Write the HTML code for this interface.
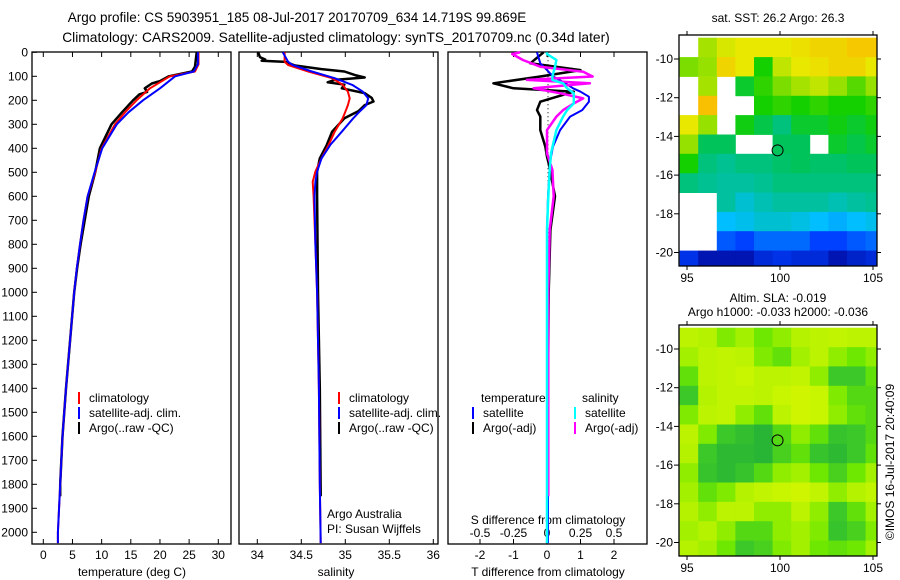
<!DOCTYPE html>
<html><head><meta charset="utf-8"><style>
body{margin:0;background:#fff}
svg{display:block;font-family:"Liberation Sans",sans-serif}
</style></head><body>
<svg id="c" width="900" height="580" viewBox="0 0 900 580" xmlns="http://www.w3.org/2000/svg">
<text x="297" y="22" font-size="13.5" text-anchor="middle">Argo profile: CS 5903951_185 08-Jul-2017 20170709_634 14.719S 99.869E</text>
<text x="336" y="42" font-size="13.8" text-anchor="middle">Climatology: CARS2009. Satellite-adjusted climatology: synTS_20170709.nc (0.34d later)</text>
<text x="778" y="22" font-size="12" text-anchor="middle">sat. SST: 26.2 Argo: 26.3</text>
<text x="778" y="302" font-size="12" text-anchor="middle">Altim. SLA: -0.019</text>
<text x="778" y="316" font-size="12" text-anchor="middle">Argo h1000: -0.033 h2000: -0.036</text>
<text transform="translate(894,462) rotate(-90)" font-size="12" text-anchor="middle">©IMOS 16-Jul-2017 20:40:09</text>
<g id="g"></g>
</svg>
<script>
// ---- profile data ----
const depthT = [0,50,80,100,150,200,250,300,400,500,600,700,800,900,1000,1200,1400,1600,1800,2000,2045];
const tempClim = [26.6,26.6,26,21.7,18.3,16,14,12.3,10,8.9,7.6,6.9,6.3,5.75,5.3,4.6,3.9,3.3,2.9,2.5,2.5];
const tempSat  = [26.5,26.5,25.8,22.6,20,17.1,14.6,12.6,10.1,8.8,7.6,6.9,6.3,5.75,5.3,4.6,3.9,3.3,2.9,2.5,2.5];
const depthTA = [0,60,80,100,120,130,150,165,175,200,250,300,400,500,600,700,800,900,1000,1200,1400,1600,1800,1850];
const tempArgo = [26.3,26,25.5,21.5,20,18.6,17.4,17.8,16.5,15.4,13.5,11.7,9.7,8.9,7.8,7.1,6.4,5.8,5.3,4.6,3.9,3.3,2.9,2.9];
const depthS = [0,39,53,80,108,136,164,192,220,248,275,331,386,442,497,539,600,800,1000,1400,1800,2045];
const salClim = [34.31,34.31,34.35,34.58,34.85,34.97,35.03,35.05,35.03,35.0,34.97,34.88,34.81,34.73,34.66,34.63,34.64,34.66,34.68,34.7,34.71,34.72];
const salSat  = [34.29,34.35,34.4,34.62,34.88,35.08,35.2,35.26,35.24,35.16,35.09,34.96,34.83,34.73,34.68,34.66,34.65,34.66,34.68,34.7,34.71,34.72];
const depthSA = [0,20,30,35,40,55,70,80,95,105,115,125,135,150,170,190,205,220,245,275,331,386,442,497,600,1000,1400,1850];
const salArgo = [34.01,34.03,34.09,34.05,34.32,34.43,34.73,34.99,35.11,35.22,34.88,34.8,34.99,34.96,35.22,35.3,35.32,35.22,35.15,34.99,34.85,34.79,34.71,34.68,34.68,34.69,34.71,34.72];
const depthD = [0,46,74,101,129,150,164,185,206,241,268,324,393,435,463,600,740,1000,1400,1850,2045];
const dTSat  = [-0.3,-0.2,0,0.18,0.55,0.78,1.0,1.25,1.25,1.05,0.69,0.39,0.18,0.12,0.09,0.03,0,0.02,0.03,0.03,0.03];
const dTArgo = [-0.1,-0.5,1.0,-0.2,-1.6,-1.0,0.8,0.3,-0.2,-0.3,-0.2,-0.2,-0.05,0,0.05,0.24,0.1,0.05,0.03,0.02,null];
const depthDS = [0,7,32,60,81,101,115,129,150,171,192,213,241,268,324,421,490,600,740,1000,1400,1850,2045];
const dSArgo = [-0.2,-0.26,-0.18,-0.05,0.27,0.34,-0.15,0.32,-0.1,0.1,0.27,0.2,0.12,0.07,0,0,0.04,0.05,0.02,0.01,0.01,0.01,null];
const dSSat  = [0,0,0.07,0.06,0.05,0.04,0.04,0.12,0.15,0.2,0.2,0.2,0.15,0.12,0.07,0.03,0.02,0.01,0,0,0,0,0];
const depthTicks = [0,100,200,300,400,500,600,700,800,900,1000,1100,1200,1300,1400,1500,1600,1700,1800,1900,2000];
const tempTicks = [0,5,10,15,20,25,30];
const salTicks = [34,34.5,35,35.5,36];
const dTTicks = [-2,-1,0,1,2];
const dSTicks = [-0.5,-0.25,0,0.25,0.5];
const dSTickLabels = ['-0.5','-0.25','0','0.25','0.5'];
// ---- map data (1-degree cells, rows from north) ----
const lonTicks = [95,100,105];
const latTicks = [-10,-12,-14,-16,-18,-20];
const sstGrid = [
[-1,.72,.78,.8,.8,.8,.82,.85,.85,.88,.88],
[.68,.7,.85,.8,.6,.75,.8,.82,.85,.85,.8],
[-1,.72,-1,.55,.62,.68,.72,.75,.7,.65,.7],
[-1,.9,-1,-1,.6,.62,.6,.62,.6,.6,.62],
[.8,.7,-1,.58,.52,.45,.55,.55,.58,.55,.58],
[.7,.5,.5,-1,-1,.5,.5,-1,.55,.52,.55],
[.6,.45,.42,.45,.45,.48,.5,.48,.48,.5,.5],
[.45,.42,.4,.4,.42,.45,.45,.45,.45,.45,.45],
[-1,-1,.4,.35,.38,.4,.4,.4,.38,.4,.42],
[-1,-1,.3,.32,.35,.35,.33,.3,.28,.3,.32],
[-1,-1,.18,.15,.2,.2,.2,.15,.15,.18,.2],
[.12,.05,.05,.05,.1,.12,.1,.1,.05,.08,.1]];
const slaGrid = [
[.75,.7,.55,.65,.5,.6,.7,.75,.8,.75,.75],
[.65,.75,.8,.75,.55,.45,.65,.75,.6,.5,.6],
[.45,.75,.8,.85,.75,.75,.8,.6,.3,.3,.45],
[.3,.7,.8,.8,.75,.85,.9,.85,.55,.4,.4],
[.55,.75,.8,.6,.45,.75,.9,.85,.6,.45,.4],
[.75,.55,.3,.2,.1,.4,.6,.45,.25,.3,.4],
[.7,.3,.15,.15,.1,.35,.45,.25,.15,.3,.45],
[.6,.25,.15,.25,.4,.6,.65,.5,.35,.5,.65],
[.65,.45,.55,.7,.8,.85,.9,.8,.6,.7,.8],
[.7,.6,.75,.75,.6,.6,.75,.6,.3,.45,.65],
[.65,.7,.6,.4,.4,.6,.65,.55,.25,.35,.55],
[.7,.65,.5,.3,.35,.55,.65,.5,.45,.5,.65]];
const floatLon = 99.869, floatLat = -14.719;

const NS='http://www.w3.org/2000/svg';
const G=document.getElementById('g');
function mk(tag,attrs,parent){const e=document.createElementNS(NS,tag);for(const k in attrs)e.setAttribute(k,attrs[k]);(parent||G).appendChild(e);return e;}
const yD = d => 52.3 + d*0.24;
const xT = t => 43.3 + t*5.833;
const xS = s => 257.3 + (s-34)*88;
const xDT = t => 547 + t*33.5;
const xDS = s => 547 + s*134;
const PT=52, PB=544;
const panels=[[32,231,'temperature-panel'],[239,438,'salinity-panel'],[448,647,'difference-panel']];
panels.forEach(p=>{
  const r=mk('rect',{x:p[0],y:PT,width:p[1]-p[0],height:PB-PT,fill:'none',stroke:'#000','stroke-width':1.3});
  
  
});
depthTicks.forEach(d=>{
  const t=mk('text',{x:28,y:yD(d)+4,'font-size':12,'text-anchor':'end'});t.textContent=d;
  
  
  mk('line',{x1:32,x2:37,y1:yD(d),y2:yD(d),stroke:'#000'});
});
function xticks(vals,labels,f,y,name){
  vals.forEach((v,i)=>{
    mk('line',{x1:f(v),x2:f(v),y1:PB,y2:PB-5,stroke:'#000'});
    mk('line',{x1:f(v),x2:f(v),y1:PT,y2:PT+5,stroke:'#000'});
    const t=mk('text',{x:f(v),y:y,'font-size':12,'text-anchor':'middle'});t.textContent=labels[i];
    
    
  });
}
xticks(tempTicks,tempTicks,xT,559,'temperature-tick-label');
xticks(salTicks,salTicks,xS,559,'salinity-tick-label');
xticks(dTTicks,dTTicks,xDT,559,'t-diff-tick-label');
dSTicks.forEach((v,i)=>{
  const t=mk('text',{x:xDS(v),y:537,'font-size':12,'text-anchor':'middle'});t.textContent=dSTickLabels[i];
  
  
});
function lbl(x,y,s,name,anchor){const t=mk('text',{x:x,y:y,'font-size':12,'text-anchor':anchor||'start'});t.textContent=s;return t;}
lbl(132,576,'temperature (deg C)','x-axis-title-temperature','middle');
lbl(336,576,'salinity','x-axis-title-salinity','middle');
lbl(548,576,'T difference from climatology','x-axis-title-t-diff','middle');
lbl(548,524,'S difference from climatology','x-axis-title-s-diff','middle');
lbl(327,518,'Argo Australia','credit-argo-australia');
lbl(327,533,'PI: Susan Wijffels','credit-pi');
mk('line',{x1:548,x2:548,y1:yD(0),y2:yD(800),stroke:'#000','stroke-dasharray':'1,3'});
function path(ds,vs,f,col,name,w){
  let s='';let pen=false;
  ds.forEach((d,i)=>{ if(vs[i]===null){pen=false;return;} s+=(pen?'L':'M')+f(vs[i]).toFixed(1)+','+yD(d).toFixed(1);pen=true;});
  const p=mk('path',{d:s,fill:'none',stroke:col,'stroke-width':w||2,'stroke-linejoin':'round'});
  
  
}
path(depthTA,tempArgo,xT,'#000','temp-argo-line',2.5);
path(depthT,tempClim,xT,'#f00','temp-climatology-line');
path(depthT,tempSat,xT,'#00f','temp-satellite-line');
path(depthSA,salArgo,xS,'#000','sal-argo-line',2.5);
path(depthS,salClim,xS,'#f00','sal-climatology-line');
path(depthS,salSat,xS,'#00f','sal-satellite-line');
path(depthD,dTArgo,xDT,'#000','t-diff-argo-line',2.5);
path(depthD,dTSat,xDT,'#00f','t-diff-satellite-line');
path(depthDS,dSArgo,xDS,'#f0f','s-diff-argo-line',2.5);
path(depthDS,dSSat,xDS,'#0ff','s-diff-satellite-line',2.5);
function leg(x,y,col,s,name){
  mk('line',{x1:x,x2:x,y1:y-10,y2:y+2,stroke:col,'stroke-width':2});
  lbl(x+10,y,s,name);
}
[[79,'#f00','climatology'],[79,'#00f','satellite-adj. clim.'],[79,'#000','Argo(..raw -QC)']].forEach((l,i)=>leg(l[0],402+i*15,l[1],l[2],'legend-temp-'+i));
[[339,'#f00','climatology'],[339,'#00f','satellite-adj. clim.'],[339,'#000','Argo(..raw -QC)']].forEach((l,i)=>leg(l[0],402+i*15,l[1],l[2],'legend-sal-'+i));
lbl(481,402,'temperature','legend-diff-temperature-heading');
lbl(582,402,'salinity','legend-diff-salinity-heading');
leg(473,417,'#00f','satellite','legend-diff-t-sat');
leg(473,432,'#000','Argo(-adj)','legend-diff-t-argo');
leg(575,417,'#0ff','satellite','legend-diff-s-sat');
leg(575,432,'#f0f','Argo(-adj)','legend-diff-s-argo');
function lerpCol(stops,v){
  for(let i=1;i<stops.length;i++){ if(v<=stops[i][0]){const a=stops[i-1],b=stops[i];const t=(v-a[0])/(b[0]-a[0]);
    return 'rgb('+[1,2,3].map(k=>Math.round(a[k]+(b[k]-a[k])*t)).join(',')+')';}}
  const l=stops[stops.length-1];return 'rgb('+l[1]+','+l[2]+','+l[3]+')';
}
const sstStops=[[0,0,0,140],[.15,0,64,255],[.3,0,190,255],[.4,0,192,160],[.5,0,195,90],[.6,20,208,0],[.7,150,225,0],[.8,232,232,0],[.9,248,192,0],[1,240,160,0]];
const slaStops=[[0,30,170,60],[.3,60,200,40],[.5,110,232,0],[.7,180,242,0],[1,220,248,0]];
function drawMap(grid,stops,top,name){
  const L=679,R=877,H=231;
  const xL=lon=>687+(lon-95)*18.6, yL=lat=>top+24+(-10-lat)*19.35;
  const g=mk('g',{});
  const cp=mk('clipPath',{id:'cp'+top},g);mk('rect',{x:L,y:top,width:R-L,height:H},cp);
  const cg=mk('g',{'clip-path':'url(#cp'+top+')'},g);
  grid.forEach((row,r)=>row.forEach((v,c)=>{
    if(v<0)return;
    const lon0=94.6+c, lat0=-8.9-r;
    const e=mk('rect',{x:xL(lon0).toFixed(1),y:yL(lat0).toFixed(1),width:19,height:19.8,fill:lerpCol(stops,v)},cg);
    
    
  }));
  mk('rect',{x:L,y:top,width:R-L,height:H,fill:'none',stroke:'#000','stroke-width':1.3},g);
  const c=mk('circle',{cx:xL(floatLon),cy:yL(floatLat),r:5.5,fill:'none',stroke:'#000','stroke-width':1},g);
  
  
  lonTicks.forEach(v=>{
    mk('line',{x1:xL(v),x2:xL(v),y1:top,y2:top-4,stroke:'#000'},g);
    mk('line',{x1:xL(v),x2:xL(v),y1:top+H,y2:top+H+4,stroke:'#000'},g);
    const t=mk('text',{x:xL(v),y:top+H+16,'font-size':12,'text-anchor':'middle'},g);t.textContent=v;
    
    
  });
  latTicks.forEach(v=>{
    mk('line',{x1:L,x2:L-5,y1:yL(v),y2:yL(v),stroke:'#000'},g);
    mk('line',{x1:R,x2:R+4,y1:yL(v),y2:yL(v),stroke:'#000'},g);
    const t=mk('text',{x:L-6,y:yL(v)+4,'font-size':12,'text-anchor':'end'},g);t.textContent=v;
    
    
  });
}
drawMap(sstGrid,sstStops,35,'sst-map');
drawMap(slaGrid,slaStops,325,'sla-map');
</script>
</body></html>
